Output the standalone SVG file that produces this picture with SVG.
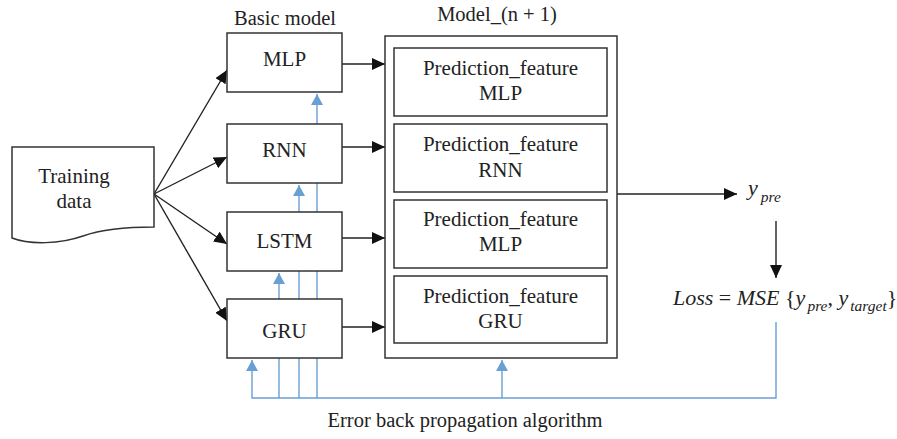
<svg xmlns="http://www.w3.org/2000/svg" width="897" height="439" viewBox="0 0 897 439">
<style>
.t{font-family:"Liberation Serif","Times New Roman",serif;font-size:21px;fill:#222;text-anchor:middle}
.lbl{font-family:"Liberation Serif","Times New Roman",serif;font-size:20.5px;fill:#222;text-anchor:middle}
.f{font-family:"Liberation Serif","Times New Roman",serif;font-style:italic;fill:#222}
.box{fill:#fff;stroke:#333;stroke-width:1.5}
.k{stroke:#222;stroke-width:1.4;fill:none}
.b{stroke:#6a9fd4;stroke-width:1.4;fill:none}
</style>
<defs>
<marker id="ak" markerUnits="userSpaceOnUse" markerWidth="14" markerHeight="12" refX="13" refY="6" orient="auto"><path d="M0,0 L13,6 L0,12 Z" fill="#111"/></marker>
<marker id="ab" markerUnits="userSpaceOnUse" markerWidth="12" markerHeight="12" refX="11" refY="6" orient="auto"><path d="M0,0 L11,6 L0,12 Z" fill="#6a9fd4"/></marker>
</defs>

<g id="connectors">
<path class="b" d="M776,322 V398 H252 V360" marker-end="url(#ab)"/>
<path class="b" d="M502,398 V360" marker-end="url(#ab)"/>
<path class="b" d="M279,398 V273" marker-end="url(#ab)"/>
<path class="b" d="M299,398 V185" marker-end="url(#ab)"/>
<path class="b" d="M317,398 V94" marker-end="url(#ab)"/>
<path class="k" d="M154,194 L227,70" marker-end="url(#ak)"/>
<path class="k" d="M154,194 L227,157" marker-end="url(#ak)"/>
<path class="k" d="M154,194 L227,244" marker-end="url(#ak)"/>
<path class="k" d="M154,194 L227,321" marker-end="url(#ak)"/>
<path class="k" d="M342,64 H385" marker-end="url(#ak)"/>
<path class="k" d="M342,147 H385" marker-end="url(#ak)"/>
<path class="k" d="M342,238 H385" marker-end="url(#ak)"/>
<path class="k" d="M342,327 H385" marker-end="url(#ak)"/>
<path class="k" d="M617,194 H737" marker-end="url(#ak)"/>
<path class="k" d="M776,221 V278" marker-end="url(#ak)"/>
</g>

<g id="training-data">
<path class="box" d="M12,147 H154 V227 C120,227 100,230 83,236 C60,244 30,245 12,238 Z"/>
<text class="t" x="74" y="183">Training</text>
<text class="t" x="74" y="208">data</text>
</g>

<text class="lbl" x="285" y="25">Basic model</text>
<text class="lbl" x="497" y="21">Model_(n + 1)</text>

<g id="mlp"><rect class="box" x="227" y="33" width="115" height="59"/><text class="t" x="284.5" y="66">MLP</text></g>
<g id="rnn"><rect class="box" x="227" y="124" width="115" height="59"/><text class="t" x="284.5" y="157">RNN</text></g>
<g id="lstm"><rect class="box" x="227" y="212" width="115" height="59"/><text class="t" x="284.5" y="248">LSTM</text></g>
<g id="gru"><rect class="box" x="227" y="299" width="115" height="59"/><text class="t" x="284.5" y="338">GRU</text></g>

<g id="model-n1">
<rect class="box" x="385" y="36" width="232" height="322"/>
</g>
<g id="pf-mlp"><rect class="box" x="394" y="48" width="213" height="68"/><text class="t" x="500.5" y="75">Prediction_feature</text><text class="t" x="500.5" y="100">MLP</text></g>
<g id="pf-rnn"><rect class="box" x="394" y="124" width="213" height="68"/><text class="t" x="500.5" y="151">Prediction_feature</text><text class="t" x="500.5" y="177">RNN</text></g>
<g id="pf-mlp2"><rect class="box" x="394" y="200" width="213" height="68"/><text class="t" x="500.5" y="226">Prediction_feature</text><text class="t" x="500.5" y="251">MLP</text></g>
<g id="pf-gru"><rect class="box" x="394" y="276" width="213" height="67"/><text class="t" x="500.5" y="303">Prediction_feature</text><text class="t" x="500.5" y="328">GRU</text></g>

<g id="ypre">
<text class="f" x="748" y="195" font-size="22">y<tspan font-size="15.5" dx="3" dy="7">pre</tspan></text>
</g>

<g id="loss">
<text class="f" x="673" y="305" font-size="22">Loss<tspan font-style="normal"> = </tspan>MSE<tspan font-style="normal"> {</tspan>y<tspan font-size="15.5" dx="2" dy="6">pre</tspan><tspan dy="-6" font-style="normal">, </tspan>y<tspan font-size="15.5" dx="2" dy="6">target</tspan><tspan dy="-6" font-style="normal">}</tspan></text>
</g>

<text class="lbl" x="465" y="427" font-size="21.5">Error back propagation algorithm</text>
</svg>
